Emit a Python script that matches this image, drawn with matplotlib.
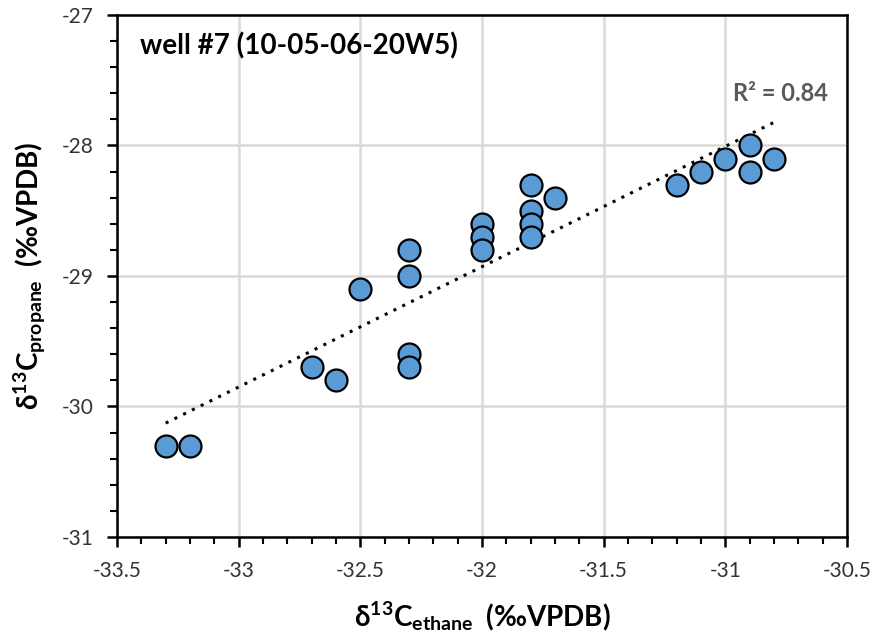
import numpy as np
import matplotlib
matplotlib.use('Agg')
import matplotlib.pyplot as plt
from matplotlib.ticker import MultipleLocator

plt.rcParams['font.family'] = ['Lato', 'DejaVu Sans']
plt.rcParams['mathtext.fontset'] = 'custom'
plt.rcParams['mathtext.rm'] = 'Lato'
plt.rcParams['mathtext.bf'] = 'Lato:bold'

# d13C ethane vs d13C propane, well #7
ethane = [-33.3, -33.2, -32.7, -32.6, -32.5,
          -32.3, -32.3, -32.3, -32.3,
          -32.0, -32.0, -32.0,
          -31.8, -31.8, -31.8, -31.8, -31.7,
          -31.2, -31.1, -31.0, -30.9, -30.9, -30.8]
propane = [-30.3, -30.3, -29.7, -29.8, -29.1,
           -28.8, -29.0, -29.6, -29.7,
           -28.6, -28.7, -28.8,
           -28.3, -28.5, -28.6, -28.7, -28.4,
           -28.3, -28.2, -28.1, -28.0, -28.2, -28.1]
r2_label = 'R² = 0.84'

x = np.array(ethane)
y = np.array(propane)
slope, icpt = np.polyfit(x, y, 1)

fig = plt.figure(figsize=(8.79, 6.43), dpi=100)
ax = fig.add_axes([0.1331, 0.1649, 0.8305, 0.8118])

xl = np.array([x.min(), x.max()])
ax.plot(xl, slope * xl + icpt, color='black', lw=2.2, linestyle=(0, (1, 2.2)), zorder=2)
ax.scatter(x, y, s=250, color='#5B9BD5', edgecolor='black', linewidth=1.6, zorder=3)

ax.set_xlim(-33.5, -30.5)
ax.set_ylim(-31, -27)
ax.xaxis.set_minor_locator(MultipleLocator(0.1))
ax.yaxis.set_minor_locator(MultipleLocator(0.2))
ax.set_xticks([-33.5, -33, -32.5, -32, -31.5, -31, -30.5])
ax.set_xticklabels(['-33.5', '-33', '-32.5', '-32', '-31.5', '-31', '-30.5'])
ax.set_yticks([-31, -30, -29, -28, -27])
ax.set_yticklabels(['-31', '-30', '-29', '-28', '-27'])

ax.grid(True, which='major', color='#d9d9d9', lw=1.8, zorder=0)
ax.set_axisbelow(True)
for s in ax.spines.values():
    s.set_linewidth(1.8)
    s.set_color('black')

ax.tick_params(which='major', direction='out', length=7, width=1.8,
               labelsize=15, colors='black', labelcolor='#333333', pad=10)
ax.tick_params(which='minor', direction='out', length=5, width=1.5)

ax.set_xlabel(r'$\mathbf{\delta^{13}C_{ethane}}$  (‰VPDB)', fontsize=20,
              fontweight='bold', labelpad=14)
ax.set_ylabel(r'$\mathbf{\delta^{13}C_{propane}}$  (‰VPDB)', fontsize=20,
              fontweight='bold', labelpad=10)

ax.text(0.031, 0.94, 'well #7 (10-05-06-20W5)', transform=ax.transAxes,
        fontsize=20, fontweight='bold', va='center', ha='left')
ax.text(-30.58, -27.6, r2_label, fontsize=17, fontweight='bold',
        color='#595959', ha='right', va='center')

fig.savefig('out.png', dpi=100)
